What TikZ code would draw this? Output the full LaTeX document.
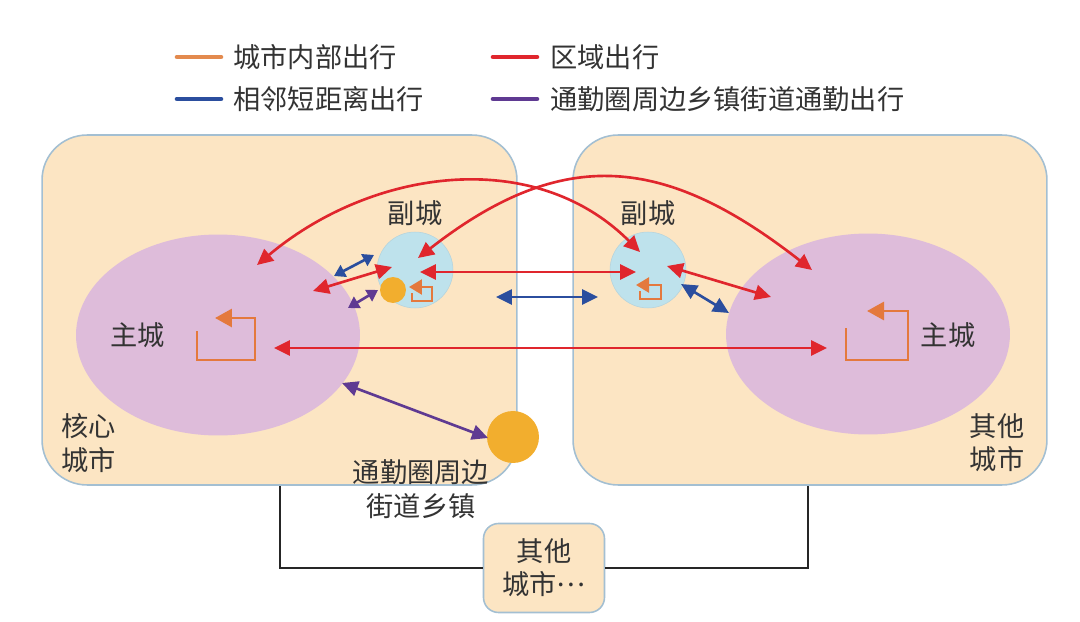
\documentclass[tikz,border=0pt]{standalone}
\usepackage{fontspec}
\newfontfamily\cjk{Noto Sans CJK SC}
\usetikzlibrary{arrows.meta,shapes.geometric}
\definecolor{boxfill}{HTML}{FCE5C3}
\definecolor{boxline}{HTML}{A3BFD2}
\definecolor{ellfill}{HTML}{DEBCDA}
\definecolor{subfill}{HTML}{BEE2EC}
\definecolor{dotc}{HTML}{F2AE2E}
\definecolor{cor}{HTML}{E4793D}
\definecolor{legor}{HTML}{E38A4E}
\definecolor{cred}{HTML}{E0262D}
\definecolor{cblue}{HTML}{2B4E9E}
\definecolor{cpur}{HTML}{5F3A92}
\definecolor{txt}{HTML}{333333}
\begin{document}
\begin{tikzpicture}[x=0.02cm,y=-0.02cm,
  lbl/.style={font=\cjk\fontsize{15.5}{19}\selectfont, text=txt, align=center, inner sep=0pt},
  citybox/.style={draw=boxline, line width=0.9pt, fill=boxfill, rounded corners=0.9cm, minimum height=7cm, inner sep=0pt},
  maincity/.style={ellipse, fill=ellfill, minimum width=5.68cm, minimum height=4.02cm, inner sep=0pt},
  subcity/.style={circle, fill=subfill, draw=subfill!85!gray, line width=0.3pt, minimum size=1.52cm, inner sep=0pt},
  town/.style={circle, fill=dotc, inner sep=0pt},
  dbl/.style={line width=1.5pt, {Triangle[length=0.32cm,width=0.3cm]}-{Triangle[length=0.32cm,width=0.3cm]}},
  sdbl/.style={line width=1.5pt, {Triangle[length=0.22cm,width=0.26cm]}-{Triangle[length=0.22cm,width=0.26cm]}},
  loop/.style={draw=cor, line width=1.7pt, -{Triangle[length=0.34cm,width=0.36cm]}},
  sloop/.style={draw=cor, line width=1.4pt, -{Triangle[length=0.26cm,width=0.3cm]}},
  legline/.style={line width=2.6pt, line cap=round},
  link/.style={draw=black!85, line width=1pt}
]
\useasboundingbox (0,0) rectangle (1080,622);

% legend
\draw[legline, legor] (177,57) -- (221,57);
\node[lbl, anchor=west] (l1) at (233,57) {城市内部出行};
\draw[legline, cred] (493,57) -- (537,57);
\node[lbl, anchor=west] (l2) at (550,57) {区域出行};
\draw[legline, cblue] (177,99) -- (221,99);
\node[lbl, anchor=west] (l3) at (233,99) {相邻短距离出行};
\draw[legline, cpur] (493,99) -- (537,99);
\node[lbl, anchor=west] (l4) at (550,99) {通勤圈周边乡镇街道通勤出行};

% connector to other cities (behind boxes)
\node[draw=boxline, line width=0.9pt, fill=boxfill, rounded corners=0.3cm, minimum width=2.42cm, minimum height=1.78cm, inner sep=0pt] (other) at (544,568) {};
\coordinate (lb) at (280,485);
\coordinate (rb) at (808,485);
\draw[link] (lb) |- (other.west);
\draw[link] (other.east) -| (rb);
\node[lbl] (othertxt) at (544,568) {其他\\城市\raisebox{0.32em}{…}};

% city boxes
\node[citybox, minimum width=9.5cm] (core) at (279.5,310) {};
\node[citybox, minimum width=9.48cm] (oth) at (810,310) {};

% main cities
\node[maincity] (mainL) at (218,335) {};
\node[maincity] (mainR) at (868,334) {};

% sub cities
\node[subcity] (subL) at (415,270) {};
\node[subcity] (subR) at (648,270) {};

% towns
\node[town, minimum size=0.52cm] (townS) at (393,290) {};
\node[town, minimum size=1.04cm] (townB) at (513,437) {};

% labels
\node[lbl] (tMainL) at (138,335) {主城};
\node[lbl] (tMainR) at (948,335) {主城};
\node[lbl] (tSubL) at (415,213) {副城};
\node[lbl] (tSubR) at (648,213) {副城};
\node[lbl] (tCore) at (89,443) {核心\\城市};
\node[lbl] (tOth) at (997,443) {其他\\城市};
\node[lbl] (tTown) at (421,489) {通勤圈周边\\街道乡镇};

% internal loops
\draw[loop] (197,331) -- (197,360) -- (255,360) -- (255,318) -- (215,318);
\draw[loop] (846,328) -- (846,360) -- (908,360) -- (908,311) -- (867,311);
\draw[sloop] (412,293) -- (412,301) -- (432,301) -- (432,287) -- (409,287);
\draw[sloop] (640,291) -- (640,299) -- (661,299) -- (661,285) -- (636,285);

% red: regional trips
\coordinate (r1a) at (257,265); \coordinate (r1b) at (640,252);
\coordinate (r2a) at (418,258); \coordinate (r2b) at (812,270);
\coordinate (r3a) at (313,291); \coordinate (r3b) at (392,267);
\coordinate (r4a) at (420,272); \coordinate (r4b) at (636,272);
\coordinate (r5a) at (667,266); \coordinate (r5b) at (771,297);
\coordinate (r6a) at (274,348); \coordinate (r6b) at (827,348);
\draw[dbl, cred] (r1a) to[out=40, in=135] (r1b);
\draw[dbl, cred] (r2a) to[out=38, in=142, looseness=1.2] (r2b);
\draw[dbl, cred] (r3a) -- (r3b);
\draw[dbl, cred] (r4a) -- (r4b);
\draw[dbl, cred] (r5a) -- (r5b);
\draw[dbl, cred] (r6a) -- (r6b);

% blue: adjacent short trips
\coordinate (b1a) at (334,276); \coordinate (b1b) at (374,255);
\coordinate (b2a) at (496,297); \coordinate (b2b) at (598,297);
\coordinate (b3a) at (681,284); \coordinate (b3b) at (729,313);
\draw[sdbl, cblue] (b1a) -- (b1b);
\draw[dbl, cblue] (b2a) -- (b2b);
\draw[dbl, cblue] (b3a) -- (b3b);

% purple: commuting
\coordinate (p1a) at (348,308); \coordinate (p1b) at (378,290);
\coordinate (p2a) at (342,383); \coordinate (p2b) at (488,438);
\draw[sdbl, cpur] (p1a) -- (p1b);
\draw[dbl, cpur] (p2a) -- (p2b);
\end{tikzpicture}
\end{document}
